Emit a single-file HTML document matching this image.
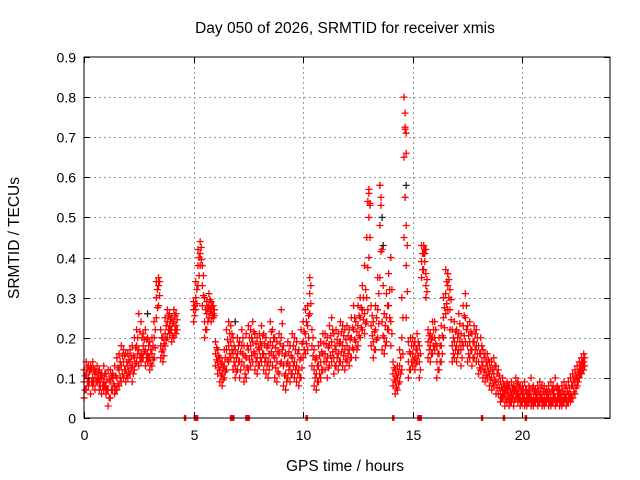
<!DOCTYPE html>
<html><head><meta charset="utf-8"><style>
html,body{margin:0;padding:0;background:#fff}
svg{display:block;font-family:"Liberation Sans",sans-serif}
</style></head><body>
<svg id="chart" width="640" height="480" viewBox="0 0 640 480">
<rect x="0" y="0" width="640" height="480" fill="#fff"/>
<g id="grid"></g>
<g id="marks"></g>
<rect x="84" y="57" width="526" height="361" fill="none" stroke="#000" stroke-width="1"/>
<g id="ticks"></g>
<text x="345" y="33" font-size="15.5" text-anchor="middle" fill="#000">Day 050 of 2026, SRMTID for receiver xmis</text>
<text x="345" y="471" font-size="15.5" text-anchor="middle" fill="#000">GPS time / hours</text>
<text x="0" y="0" font-size="15.5" text-anchor="middle" fill="#000" transform="translate(19,238) rotate(-90)">SRMTID / TECUs</text>
</svg>
<script>
const xTicks=[0,5,10,15,20];
const yTicks=[0,0.1,0.2,0.3,0.4,0.5,0.6,0.7,0.8,0.9];
const yTickLabels=["0","0.1","0.2","0.3","0.4","0.5","0.6","0.7","0.8","0.9"];
const hours=[0.0,0.1,0.2,0.3,0.4,0.5,0.6,0.7,0.8,0.9,1.0,1.1,1.2,1.3,1.4,1.5,1.6,1.7,1.8,1.9,2.0,2.1,2.2,2.3,2.4,2.5,2.6,2.7,2.8,2.9,3.0,3.1,3.2,3.3,3.4,3.5,3.6,3.7,3.8,3.9,4.0,4.1,4.2,
5.0,5.1,5.2,5.3,5.4,5.5,5.6,5.7,5.8,5.9,6.0,6.1,6.2,6.3,6.4,6.5,6.6,6.7,6.8,6.9,7.0,7.1,7.2,7.3,7.4,7.5,7.6,7.7,7.8,7.9,8.0,8.1,8.2,8.3,8.4,8.5,8.6,8.7,8.8,8.9,9.0,9.1,9.2,9.3,9.4,9.5,9.6,9.7,9.8,9.9,10.0,10.1,10.2,10.3,10.4,10.5,10.6,10.7,10.8,10.9,11.0,11.1,11.2,11.3,11.4,11.5,11.6,11.7,11.8,11.9,12.0,12.1,12.2,12.3,12.4,12.5,12.6,12.7,12.8,12.9,13.0,13.1,13.2,13.3,13.4,13.5,13.6,13.7,13.8,13.9,14.0,14.1,14.2,14.3,14.4,14.5,14.6,14.7,14.8,14.9,15.0,15.1,15.2,15.3,15.4,15.5,15.6,15.7,15.8,15.9,16.0,16.1,16.2,16.3,16.4,16.5,16.6,16.7,16.8,16.9,17.0,17.1,17.2,17.3,17.4,17.5,17.6,17.7,17.8,17.9,18.0,18.1,18.2,18.3,18.4,18.5,18.6,18.7,18.8,18.9,19.0,19.1,19.2,19.3,19.4,19.5,19.6,19.7,19.8,19.9,20.0,20.1,20.2,20.3,20.4,20.5,20.6,20.7,20.8,20.9,21.0,21.1,21.2,21.3,21.4,21.5,21.6,21.7,21.8,21.9,22.0,22.1,22.2,22.3,22.4,22.5,22.6,22.7,22.8];
const srmtidLow=[.05,.07,.08,.06,.08,.07,.09,.07,.06,.07,.06,.03,.05,.07,.06,.07,.08,.09,.10,.09,.10,.11,.09,.12,.14,.13,.14,.15,.13,.14,.12,.13,.15,.25,.28,.15,.14,.18,.20,.21,.19,.20,.21,
.24,.27,.33,.38,.28,.20,.22,.25,.24,.25,.13,.11,.09,.08,.10,.12,.14,.15,.12,.10,.12,.10,.14,.09,.10,.12,.13,.14,.12,.11,.13,.14,.12,.11,.10,.14,.13,.10,.09,.11,.14,.08,.07,.10,.09,.11,.10,.09,.08,.10,.15,.16,.17,.26,.13,.08,.07,.09,.10,.12,.12,.10,.13,.14,.11,.13,.12,.14,.13,.12,.14,.13,.15,.17,.15,.18,.20,.22,.21,.24,.40,.18,.15,.17,.20,.35,.17,.16,.19,.22,.18,.08,.06,.07,.09,.12,.45,.25,.10,.12,.13,.12,.14,.10,.35,.37,.30,.15,.14,.16,.17,.10,.12,.14,.20,.26,.27,.22,.14,.15,.14,.17,.13,.18,.19,.14,.15,.13,.15,.14,.11,.12,.10,.09,.10,.08,.07,.08,.06,.06,.04,.05,.03,.04,.03,.04,.03,.05,.04,.03,.04,.03,.03,.04,.03,.03,.04,.03,.04,.03,.03,.04,.03,.03,.04,.03,.04,.03,.03,.04,.03,.04,.04,.05,.06,.08,.10,.11,.12];
const srmtidMid=[.09,.11,.10,.12,.10,.11,.10,.09,.10,.09,.08,.07,.09,.10,.08,.10,.12,.13,.14,.12,.13,.14,.13,.15,.18,.17,.16,.18,.17,.16,.15,.16,.20,.30,.33,.18,.17,.21,.24,.23,.22,.24,.23,
.27,.30,.38,.41,.33,.24,.26,.28,.27,.26,.16,.14,.12,.11,.13,.17,.18,.19,.16,.13,.16,.14,.18,.13,.15,.17,.18,.19,.16,.15,.17,.18,.16,.15,.14,.19,.18,.15,.14,.16,.20,.13,.11,.14,.13,.15,.14,.13,.12,.15,.19,.21,.23,.31,.18,.12,.11,.13,.14,.16,.16,.15,.18,.19,.15,.17,.16,.19,.18,.17,.18,.17,.20,.22,.19,.23,.25,.27,.26,.30,.50,.23,.19,.22,.27,.48,.24,.20,.25,.28,.24,.11,.09,.10,.13,.20,.65,.38,.14,.16,.16,.15,.17,.14,.39,.41,.33,.19,.18,.20,.20,.14,.16,.18,.25,.31,.33,.27,.18,.19,.18,.21,.17,.23,.25,.18,.19,.17,.19,.18,.14,.16,.13,.12,.13,.11,.10,.11,.09,.09,.06,.07,.06,.07,.05,.06,.06,.07,.06,.05,.06,.05,.05,.06,.05,.05,.06,.05,.06,.05,.05,.06,.05,.05,.06,.05,.06,.05,.05,.06,.05,.06,.06,.08,.09,.10,.12,.13,.14];
const srmtidHigh=[.12,.14,.13,.13,.14,.12,.13,.12,.11,.13,.11,.12,.12,.11,.13,.15,.16,.18,.17,.16,.16,.17,.18,.20,.22,.26,.24,.21,.22,.20,.19,.20,.24,.34,.35,.22,.20,.25,.27,.26,.25,.27,.26,
.29,.34,.42,.44,.38,.30,.29,.31,.29,.28,.19,.17,.15,.14,.17,.22,.24,.23,.20,.17,.20,.19,.22,.18,.21,.23,.22,.24,.21,.20,.21,.23,.21,.20,.18,.24,.22,.20,.19,.21,.27,.18,.16,.19,.18,.21,.20,.19,.17,.22,.24,.27,.28,.35,.22,.17,.15,.18,.19,.21,.21,.20,.23,.25,.21,.22,.21,.24,.23,.22,.23,.22,.25,.28,.24,.28,.30,.33,.38,.45,.57,.28,.24,.28,.35,.58,.42,.26,.31,.36,.40,.14,.12,.13,.17,.30,.80,.48,.19,.20,.20,.19,.21,.18,.43,.43,.36,.22,.21,.24,.24,.18,.20,.23,.30,.37,.36,.32,.22,.24,.22,.26,.21,.28,.31,.23,.24,.21,.23,.22,.18,.20,.17,.16,.16,.14,.14,.15,.13,.12,.09,.10,.08,.09,.08,.09,.08,.10,.09,.08,.08,.09,.07,.08,.10,.08,.07,.08,.09,.08,.08,.07,.08,.09,.08,.10,.08,.07,.08,.09,.08,.09,.10,.11,.12,.13,.14,.15,.16];
const peakHours=[12.95,13.0,13.05,13.5,13.55,14.65,14.65,14.7,14.7,14.65,15.55,15.6];
const peakValues=[0.54,0.56,0.53,0.58,0.55,0.76,0.72,0.71,0.66,0.55,0.41,0.42];
const blackHours=[13.6,13.65,6.9,14.7,16.6,2.9];
const blackValues=[0.50,0.43,0.24,0.58,0.36,0.26];
const zeroHours=[4.6,5.05,5.15,6.7,6.8,7.4,7.5,10.15,14.1,15.25,15.35,18.15,19.15,20.15];

const X0=84,X1=610,Y0=418,Y1=57,XMAX=24,YMAX=0.9;
function xs(h){return X0+(X1-X0)*h/XMAX;}
function ys(v){return Y0-(Y0-Y1)*v/YMAX;}
const NS="http://www.w3.org/2000/svg";
const grid=document.getElementById('grid'),ticks=document.getElementById('ticks'),marks=document.getElementById('marks');
function line(p,x1,y1,x2,y2,st,dash){const l=document.createElementNS(NS,'line');l.setAttribute('x1',x1);l.setAttribute('y1',y1);l.setAttribute('x2',x2);l.setAttribute('y2',y2);l.setAttribute('stroke',st);l.setAttribute('stroke-width',1);if(dash)l.setAttribute('stroke-dasharray',dash);p.appendChild(l);return l;}
function txt(p,x,y,s,anchor){const t=document.createElementNS(NS,'text');t.setAttribute('x',x);t.setAttribute('y',y);t.setAttribute('font-size',14);t.setAttribute('text-anchor',anchor);t.setAttribute('fill','#000');t.textContent=s;p.appendChild(t);return t;}
yTicks.forEach((v,i)=>{const y=Math.round(ys(v))+0.5;
 if(v>0&&v<YMAX){const g=line(grid,X0,y,X1,y,'#999','2,3');}
 const a=line(ticks,X0,y,X0+6,y,'#000');
 const b=line(ticks,X1-6,y,X1,y,'#000');
 const t=txt(ticks,X0-8,y+5,yTickLabels[i],'end');});
xTicks.forEach(h=>{const x=Math.round(xs(h))+0.5;
 if(h>0){const g=line(grid,x,Y1,x,Y0,'#999','2,3');}
 const a=line(ticks,x,Y0-6,x,Y0,'#000');
 const b=line(ticks,x,Y1,x,Y1+6,'#000');
 const t=txt(ticks,x,Y0+22,String(h),'middle');});
function plus(h,v,color){const x=xs(h),y=ys(v);const p=document.createElementNS(NS,'path');
 p.setAttribute('d','M'+(x-3.5)+' '+y+'H'+(x+3.5)+'M'+x+' '+(y-3.5)+'V'+(y+3.5));
 p.setAttribute('stroke',color);p.setAttribute('stroke-width',1.3);p.setAttribute('fill','none');
 
 
 marks.appendChild(p);}
blackHours.forEach((h,i)=>plus(h,blackValues[i],'#222'));
hours.forEach((h,i)=>{plus(h,srmtidLow[i],'#f00');plus(h+0.05,(srmtidLow[i]+srmtidMid[i])/2,'#f00');plus(h,srmtidMid[i],'#f00');plus(h+0.05,(srmtidMid[i]+srmtidHigh[i])/2,'#f00');plus(h,srmtidHigh[i],'#f00');});
peakHours.forEach((h,i)=>plus(h,peakValues[i],'#f00'));
zeroHours.forEach(h=>{const r=document.createElementNS(NS,'rect');r.setAttribute('x',xs(h)-1);r.setAttribute('y',Y0-3);r.setAttribute('width',2.5);r.setAttribute('height',6);r.setAttribute('fill','#f00');
 
 
 marks.appendChild(r);});
</script>
</body></html>
